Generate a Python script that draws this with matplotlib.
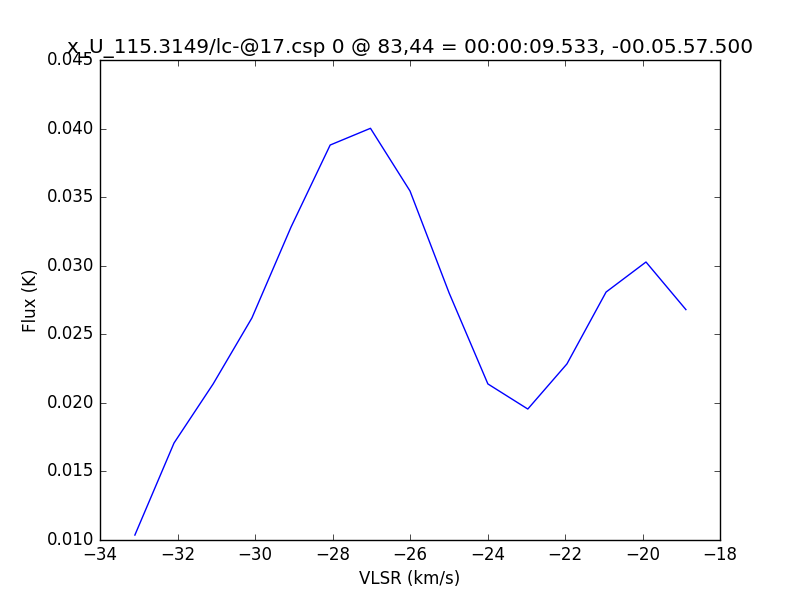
import matplotlib
matplotlib.use("Agg")
import matplotlib.pyplot as plt

plt.style.use('classic')

vlsr = [-33.10, -32.09, -31.08, -30.08, -29.07, -28.06, -27.02, -26.00,
        -24.99, -23.99, -22.96, -21.95, -20.94, -19.91, -18.88]
flux = [0.01036, 0.01707, 0.02138, 0.02619, 0.03282, 0.03880, 0.04002, 0.03545,
        0.02801, 0.02138, 0.01955, 0.02284, 0.02808, 0.03027, 0.02680]

fig = plt.figure(figsize=(8, 6), dpi=100)
ax = fig.add_subplot(111)
ax.plot(vlsr, flux, color='b')
ax.set_xlim(-34, -18)
ax.set_ylim(0.010, 0.045)
ax.set_xlabel('VLSR (km/s)')
ax.set_ylabel('Flux (K)')
ax.set_title('x_U_115.3149/lc-@17.csp 0 @ 83,44 = 00:00:09.533, -00.05.57.500')
fig.savefig('out.png', dpi=100)
